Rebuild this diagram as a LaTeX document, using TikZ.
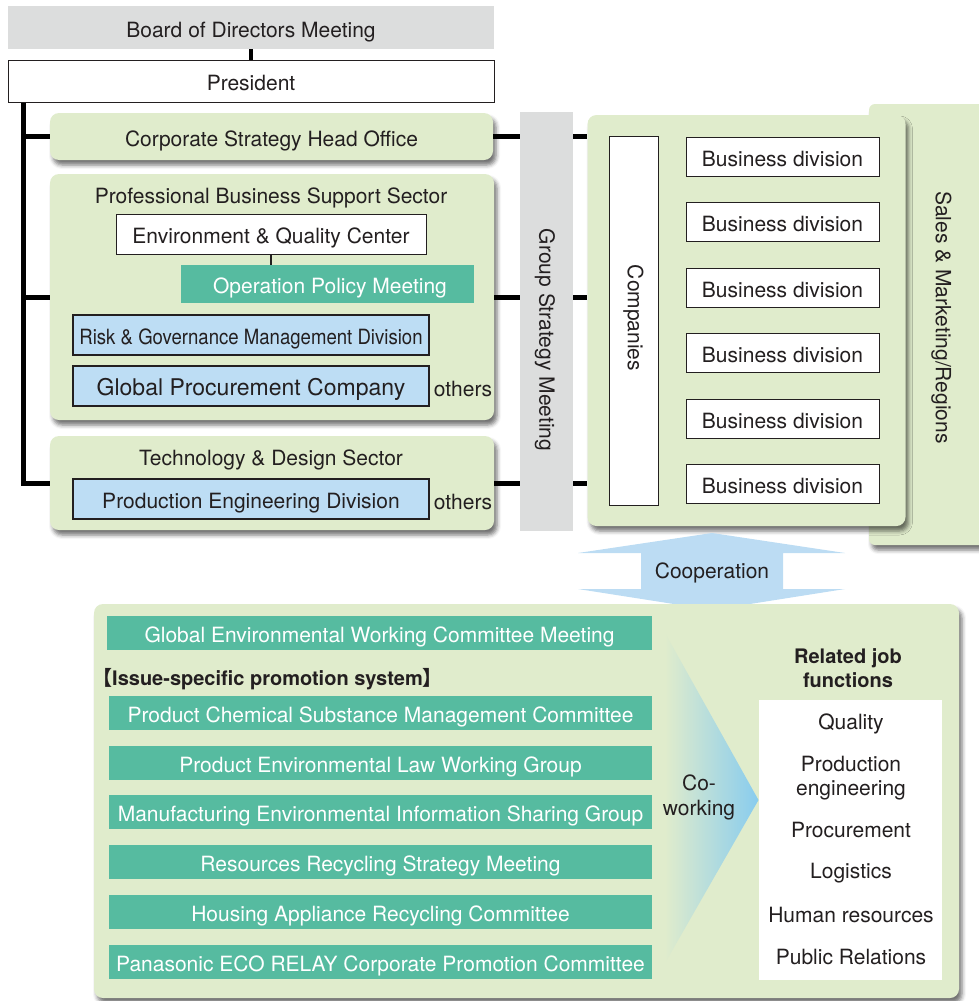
\documentclass[tikz,border=0pt]{standalone}
\usepackage{fontspec}
\setmainfont{TeX Gyre Heros}
\newfontfamily\cjkfont{Noto Sans CJK JP}
\usetikzlibrary{shadows.blur}

\definecolor{leaf}{RGB}{224,236,204}
\definecolor{mint}{RGB}{86,187,160}
\definecolor{sky}{RGB}{189,221,244}
\definecolor{mist}{RGB}{220,221,221}
\definecolor{coopblue}{RGB}{188,220,243}
\definecolor{cowork}{RGB}{136,204,238}
\definecolor{ink}{RGB}{35,31,32}

\tikzset{
  txt/.style={font=\fontsize{21}{25}\selectfont, text=ink},
  % single-line labels inside boxes sit on a fixed baseline
  boxtext/.style={text height=19pt, text depth=0pt},
  panel/.style={fill=leaf, rounded corners=9pt, inner sep=0pt,
    blur shadow={shadow xshift=3pt, shadow yshift=-5pt,
                 shadow blur radius=4pt, shadow opacity=55}},
  greybar/.style={txt, boxtext, fill=mist, inner sep=0pt},
  plainbox/.style={txt, boxtext, draw=ink, line width=1pt, fill=white, inner sep=0pt},
  divbox/.style={txt, boxtext, draw=ink, line width=1.3pt, fill=sky, inner sep=0pt},
  mintbox/.style={txt, boxtext, fill=mint, text=white, inner sep=0pt},
  bizbox/.style={plainbox, minimum width=193, minimum height=39},
  listbox/.style={mintbox, minimum width=543, minimum height=34},
  jobitem/.style={txt, align=center},
  link/.style={draw=black, line width=5pt},
  thinlink/.style={draw=ink, line width=1.2pt},
}

\begin{document}
\begin{tikzpicture}[x=1pt, y=-1pt]
\useasboundingbox (0,0) rectangle (979,1001);

% ---- top of the hierarchy ----
\node[greybar, minimum width=486, minimum height=43] (board) at (251,27.5) {Board of Directors Meeting};
\node[plainbox, minimum width=486, minimum height=42] (pres) at (251,81) {President};
\draw[link, line width=4pt] (board) -- (pres);

% ---- head office and sectors ----
\node[panel, txt, boxtext, minimum width=443, minimum height=47] (corp) at (271.5,136.5) {Corporate Strategy Head Office};

\node[panel, minimum width=444, minimum height=246] (pbss) at (272,297) {};
\node[txt] (pbsstitle) at (271,198) {Professional Business Support Sector};
\node[plainbox, minimum width=310, minimum height=40] (envq) at (271,234) {Environment \& Quality Center};
\node[mintbox, minimum width=293, minimum height=38] (opm) at (327.5,284) {\hspace{5pt}Operation Policy Meeting};
\draw[thinlink] (envq.south) -- (envq.south |- opm.north);
\node[divbox, minimum width=356, minimum height=40] (risk) at (251,335) {\scalebox{0.885}[1]{Risk \& Governance Management Division}};
\node[divbox, minimum width=356, minimum height=40, font=\fontsize{23}{27}\selectfont] (gpc) at (251,386) {Global Procurement Company};
\node[txt] (others1) at (463,389) {others};

\node[panel, minimum width=444, minimum height=94] (tds) at (272,483) {};
\node[txt] (tdstitle) at (271,460) {Technology \& Design Sector};
\node[divbox, minimum width=356, minimum height=40] (ped) at (251,499) {Production Engineering Division};
\node[txt] (others2) at (463,502) {others};

% spine from the President down to the sectors
\coordinate (spine) at ([xshift=16pt]pres.south west);
\draw[link] (spine) |- (tds.west);
\draw[link] (spine |- corp.west) -- (corp.west);
\draw[link] (spine |- pbss.west) -- (pbss.west);

% ---- group strategy meeting ----
\node[greybar, minimum width=53, minimum height=419] (gsm) at (546.5,321.5) {};
\node[txt, rotate=-90] (gsmtext) at (545,340) {Group Strategy Meeting};

% ---- sales and companies ----
\node[panel, rounded corners=6pt, minimum width=131, minimum height=441] (sales) at (934.5,324.5) {};
\node[txt, rotate=-90] (salestext) at (941.5,317.5) {Sales \& Marketing/Regions};

\node[panel, minimum width=318, minimum height=411] (comp) at (746.5,320.5) {};
\node[plainbox, minimum width=49, minimum height=369] (companies) at (633.5,320.5) {};
\node[txt, rotate=-90] (companiestext) at (633.5,318) {Companies};
\node[bizbox] (bd1) at (782.5,156.5) {Business division};
\node[bizbox] (bd2) at (782.5,222) {Business division};
\node[bizbox] (bd3) at (782.5,287.5) {Business division};
\node[bizbox] (bd4) at (782.5,353) {Business division};
\node[bizbox] (bd5) at (782.5,418.5) {Business division};
\node[bizbox] (bd6) at (782.5,484) {Business division};

% links across the strategy meeting
\foreach \src in {corp, pbss, tds} {
  \draw[link] (\src.east) -- (\src.east -| gsm.west);
  \draw[link] (\src.east -| gsm.east) -- (\src.east -| comp.west);
}

% ---- cooperation arrow ----
\fill[coopblue] (712,533) -- (845,553) -- (783,553) -- (783,589) -- (845,589)
  -- (712,610) -- (578,589) -- (641,589) -- (641,553) -- (578,553) -- cycle;
\node[txt] (coop) at (712,573) {Cooperation};

% ---- environmental promotion system ----
\node[panel, minimum width=865, minimum height=394] (lower) at (526.5,801) {};
\node[mintbox, minimum width=545, minimum height=34] (gewc) at (379.5,633) {Global Environmental Working Committee Meeting};
\node[txt, anchor=west, inner sep=0pt, font=\bfseries\fontsize{20}{24}\selectfont] (issue) at (92,679)
  {{\cjkfont 【}Issue-specific promotion system{\cjkfont 】}};
\node[listbox] (pcsm) at (380.5,713) {Product Chemical Substance Management Committee};
\node[listbox] (pelw) at (380.5,763) {Product Environmental Law Working Group};
\node[listbox] (meis) at (380.5,812) {Manufacturing Environmental Information Sharing Group};
\node[listbox] (rrsm) at (380.5,862) {Resources Recycling Strategy Meeting};
\node[listbox] (harc) at (380.5,912) {Housing Appliance Recycling Committee};
\node[listbox] (peco) at (380.5,962) {Panasonic ECO RELAY Corporate Promotion Committee};

% co-working wedge
\shade[left color=leaf, right color=cowork] (665,633) -- (758.5,800) -- (665,963) -- cycle;
\node[txt, align=center] (cowork) at (699,797) {Co-\\working};

% related job functions
\node[txt, align=center, font=\bfseries\fontsize{20}{24}\selectfont] (jobtitle) at (848,668) {Related job\\functions};
\node[fill=white, inner sep=0pt, minimum width=183, minimum height=280] (jobs) at (850,840) {};
\node[jobitem] (j1) at (851,724) {Quality};
\node[jobitem, font=\fontsize{21}{23.5}\selectfont] (j2) at (851,778) {Production\\engineering};
\node[jobitem] (j3) at (851,830) {Procurement};
\node[jobitem] (j4) at (851,873.5) {Logistics};
\node[jobitem] (j5) at (851,914.5) {Human resources};
\node[jobitem] (j6) at (851,957) {Public Relations};

\end{tikzpicture}
\end{document}
